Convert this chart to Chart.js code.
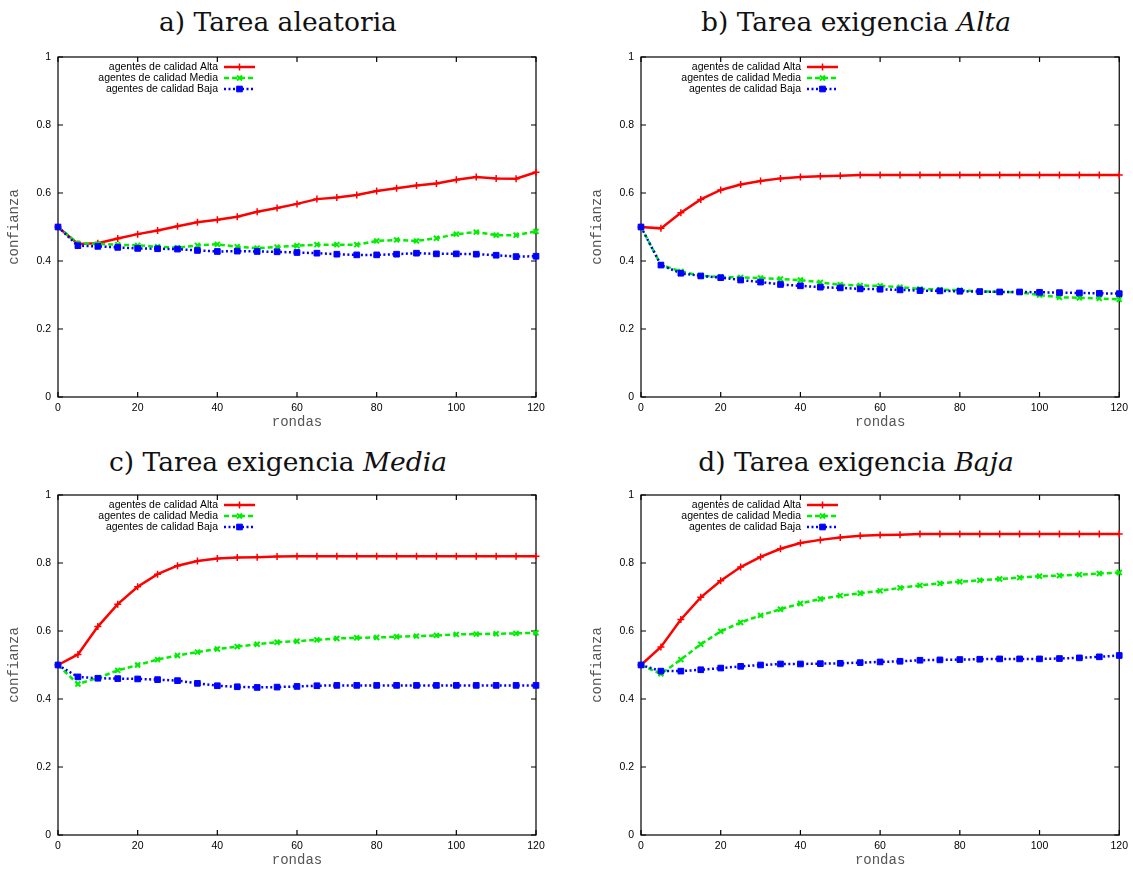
<!DOCTYPE html>
<html lang="es">
<head>
  <meta charset="UTF-8">
  <title>Confianza por rondas</title>
  <script src="https://cdn.jsdelivr.net/npm/chart.js"></script>
  <style>
    body {
      margin: 0;
      background: #fff;
      width: 1133px;
      height: 873px;
      overflow: hidden;
      position: relative;
    }
    .titulo {
      position: absolute;
      font-family: "DejaVu Serif", serif;
      font-size: 26.5px;
      line-height: 28px;
      text-align: center;
      color: #111;
      white-space: nowrap;
    }
    canvas { position: absolute; }
  </style>
</head>
<body>

<div class="titulo" style="left:0; top:8px; width:556px;">a) Tarea aleatoria</div>
<div class="titulo" style="left:575px; top:8px; width:562px;">b) Tarea exigencia <i>Alta</i></div>
<div class="titulo" style="left:0; top:448px; width:556px;">c) Tarea exigencia <i>Media</i></div>
<div class="titulo" style="left:575px; top:448px; width:562px;">d) Tarea exigencia <i>Baja</i></div>

<canvas id="chartA" width="566" height="400" style="left:0; top:40px;"></canvas>
<canvas id="chartB" width="550" height="400" style="left:583px; top:40px;"></canvas>
<canvas id="chartC" width="566" height="400" style="left:0; top:478px;"></canvas>
<canvas id="chartD" width="550" height="400" style="left:583px; top:478px;"></canvas>

<script>
  const rondas = [0, 5, 10, 15, 20, 25, 30, 35, 40, 45, 50, 55, 60, 65, 70, 75, 80, 85, 90, 95, 100, 105, 110, 115, 120];
  const yTicks = [0, 0.2, 0.4, 0.6, 0.8, 1];

  // a) tarea aleatoria
  const aAlta  = [0.5, 0.45, 0.452, 0.466, 0.479, 0.49, 0.502, 0.514, 0.521, 0.53, 0.545, 0.556, 0.568, 0.582, 0.587, 0.594, 0.606, 0.614, 0.622, 0.628, 0.639, 0.647, 0.643, 0.642, 0.661];
  const aMedia = [0.5, 0.452, 0.45, 0.448, 0.446, 0.442, 0.439, 0.446, 0.449, 0.442, 0.438, 0.441, 0.445, 0.448, 0.448, 0.448, 0.459, 0.462, 0.459, 0.467, 0.479, 0.485, 0.476, 0.476, 0.487];
  const aBaja  = [0.5, 0.445, 0.443, 0.44, 0.437, 0.436, 0.435, 0.431, 0.428, 0.429, 0.428, 0.427, 0.425, 0.423, 0.42, 0.418, 0.418, 0.42, 0.423, 0.421, 0.421, 0.42, 0.417, 0.413, 0.414];

  // b) exigencia Alta
  const bAlta  = [0.5, 0.496, 0.542, 0.581, 0.609, 0.625, 0.635, 0.643, 0.647, 0.649, 0.651, 0.653, 0.653, 0.653, 0.653, 0.653, 0.653, 0.653, 0.653, 0.653, 0.653, 0.653, 0.653, 0.653, 0.653];
  const bMedia = [0.5, 0.389, 0.369, 0.357, 0.353, 0.352, 0.35, 0.347, 0.344, 0.337, 0.33, 0.328, 0.327, 0.323, 0.318, 0.316, 0.314, 0.311, 0.309, 0.308, 0.3, 0.293, 0.292, 0.29, 0.287];
  const bBaja  = [0.5, 0.388, 0.364, 0.356, 0.351, 0.344, 0.338, 0.331, 0.327, 0.323, 0.321, 0.318, 0.317, 0.315, 0.313, 0.312, 0.311, 0.31, 0.309, 0.309, 0.308, 0.307, 0.306, 0.305, 0.304];

  // c) exigencia Media
  const cAlta  = [0.5, 0.531, 0.613, 0.679, 0.73, 0.767, 0.792, 0.806, 0.813, 0.816, 0.817, 0.819, 0.82, 0.82, 0.82, 0.82, 0.82, 0.82, 0.82, 0.82, 0.82, 0.82, 0.82, 0.82, 0.82];
  const cMedia = [0.5, 0.444, 0.462, 0.484, 0.5, 0.516, 0.528, 0.538, 0.547, 0.554, 0.561, 0.567, 0.57, 0.574, 0.578, 0.58, 0.581, 0.583, 0.585, 0.587, 0.59, 0.591, 0.592, 0.593, 0.595];
  const cBaja  = [0.5, 0.465, 0.461, 0.46, 0.459, 0.457, 0.454, 0.446, 0.439, 0.436, 0.434, 0.435, 0.437, 0.439, 0.44, 0.44, 0.44, 0.44, 0.44, 0.44, 0.44, 0.44, 0.44, 0.44, 0.44];

  // d) exigencia Baja
  const dAlta  = [0.5, 0.553, 0.634, 0.699, 0.748, 0.788, 0.818, 0.842, 0.859, 0.868, 0.875, 0.88, 0.882, 0.883, 0.885, 0.885, 0.885, 0.885, 0.885, 0.885, 0.885, 0.885, 0.885, 0.885, 0.885];
  const dMedia = [0.5, 0.474, 0.516, 0.561, 0.599, 0.625, 0.646, 0.664, 0.681, 0.694, 0.704, 0.711, 0.718, 0.727, 0.734, 0.74, 0.745, 0.749, 0.753, 0.757, 0.761, 0.763, 0.766, 0.769, 0.772];
  const dBaja  = [0.5, 0.482, 0.482, 0.486, 0.491, 0.496, 0.5, 0.503, 0.503, 0.504, 0.505, 0.507, 0.509, 0.511, 0.514, 0.515, 0.516, 0.517, 0.518, 0.518, 0.518, 0.519, 0.521, 0.524, 0.528];

  const series = [
    { label: 'agentes de calidad Alta',  color: '#ff0000', dash: [],     style: 'cross',    radius: 3.5, pw: 1.5, order: 2 },
    { label: 'agentes de calidad Media', color: '#00ee00', dash: [5, 3], style: 'crossRot', radius: 3.5, pw: 2,   order: 1 },
    { label: 'agentes de calidad Baja',  color: '#0000ff', dash: [2, 2.5], style: 'rect',   radius: 4,   pw: 1,   order: 0 }
  ];

  // marco negro con marcas hacia dentro en los cuatro lados
  const marco = {
    id: 'marco',
    beforeDatasetsDraw(chart) {
      const { ctx, chartArea: a, scales: { x, y } } = chart;
      const len = 5;
      ctx.save();
      ctx.strokeStyle = '#000';
      ctx.lineWidth = 1.2;
      ctx.strokeRect(a.left, a.top, a.right - a.left, a.bottom - a.top);
      ctx.beginPath();
      x.ticks.forEach(t => {
        const px = x.getPixelForValue(t.value);
        ctx.moveTo(px, a.bottom); ctx.lineTo(px, a.bottom - len);
        ctx.moveTo(px, a.top);    ctx.lineTo(px, a.top + len);
      });
      y.ticks.forEach(t => {
        const py = y.getPixelForValue(t.value);
        ctx.moveTo(a.left, py);  ctx.lineTo(a.left + len, py);
        ctx.moveTo(a.right, py); ctx.lineTo(a.right - len, py);
      });
      ctx.stroke();
      ctx.restore();
    }
  };

  // leyenda estilo gnuplot: texto alineado a la derecha y muestra de línea
  const leyenda = {
    id: 'leyenda',
    afterDatasetsDraw(chart) {
      const { ctx, chartArea: a } = chart;
      ctx.save();
      ctx.font = '10.5px "Liberation Sans", Arial, sans-serif';
      ctx.textAlign = 'right';
      ctx.textBaseline = 'middle';
      chart.data.datasets.forEach((ds, i) => {
        const yy = a.top + 10 + i * 11;
        const x0 = a.left + 166, x1 = a.left + 197;
        ctx.fillStyle = '#000';
        ctx.fillText(ds.label, a.left + 160, yy);
        ctx.strokeStyle = ds.borderColor;
        ctx.fillStyle = ds.borderColor;
        ctx.lineWidth = ds.borderWidth;
        ctx.setLineDash(ds.borderDash);
        ctx.beginPath();
        ctx.moveTo(x0, yy); ctx.lineTo(x1, yy);
        ctx.stroke();
        ctx.setLineDash([]);
        ctx.lineWidth = ds.pointBorderWidth;
        Chart.helpers.drawPoint(ctx, {
          pointStyle: ds.pointStyle, radius: ds.pointRadius, rotation: 0, borderWidth: ds.pointBorderWidth
        }, (x0 + x1) / 2, yy);
      });
      ctx.restore();
    }
  };

  function makeChart(id, values, padRight) {
    const ctx = document.getElementById(id).getContext('2d');
    new Chart(ctx, {
      type: 'line',
      data: {
        datasets: series.map((s, i) => ({
          label: s.label,
          data: rondas.map((r, k) => ({ x: r, y: values[i][k] })),
          borderColor: s.color,
          backgroundColor: s.color,
          borderWidth: 2.5,
          borderDash: s.dash,
          pointStyle: s.style,
          pointRadius: s.radius,
          pointBorderWidth: s.pw,
          pointBackgroundColor: s.color,
          pointBorderColor: s.color,
          tension: 0,
          clip: false,
          order: s.order
        }))
      },
      options: {
        responsive: false,
        animation: false,
        layout: { padding: { left: 0, top: 17, right: padRight, bottom: 0 } },
        plugins: { legend: { display: false }, tooltip: { enabled: false } },
        scales: {
          x: {
            type: 'linear',
            min: 0,
            max: 120,
            afterFit: s => { s.height = 43; },
            grid: { display: false, drawTicks: false },
            border: { display: false },
            ticks: {
              stepSize: 20,
              padding: 5,
              color: '#000',
              font: { family: '"Liberation Sans", Arial, sans-serif', size: 10.5 }
            },
            title: {
              display: true,
              text: 'rondas',
              color: '#555',
              font: { family: '"Liberation Mono", monospace', size: 14 },
              padding: { top: 0, bottom: 9 }
            }
          },
          y: {
            min: 0,
            max: 1,
            afterFit: s => { s.width = 58; },
            afterBuildTicks: s => { s.ticks = yTicks.map(v => ({ value: v })); },
            grid: { display: false, drawTicks: false },
            border: { display: false },
            ticks: {
              padding: 7,
              color: '#000',
              font: { family: '"Liberation Sans", Arial, sans-serif', size: 10.5 },
              callback: v => String(+v.toFixed(1))
            },
            title: {
              display: true,
              text: 'confianza',
              color: '#555',
              font: { family: '"Liberation Mono", monospace', size: 14 },
              padding: { top: 6, bottom: 0 }
            }
          }
        }
      },
      plugins: [marco, leyenda]
    });
  }

  makeChart('chartA', [aAlta, aMedia, aBaja], 30);
  makeChart('chartB', [bAlta, bMedia, bBaja], 13);
  makeChart('chartC', [cAlta, cMedia, cBaja], 30);
  makeChart('chartD', [dAlta, dMedia, dBaja], 13);
</script>

</body>
</html>
